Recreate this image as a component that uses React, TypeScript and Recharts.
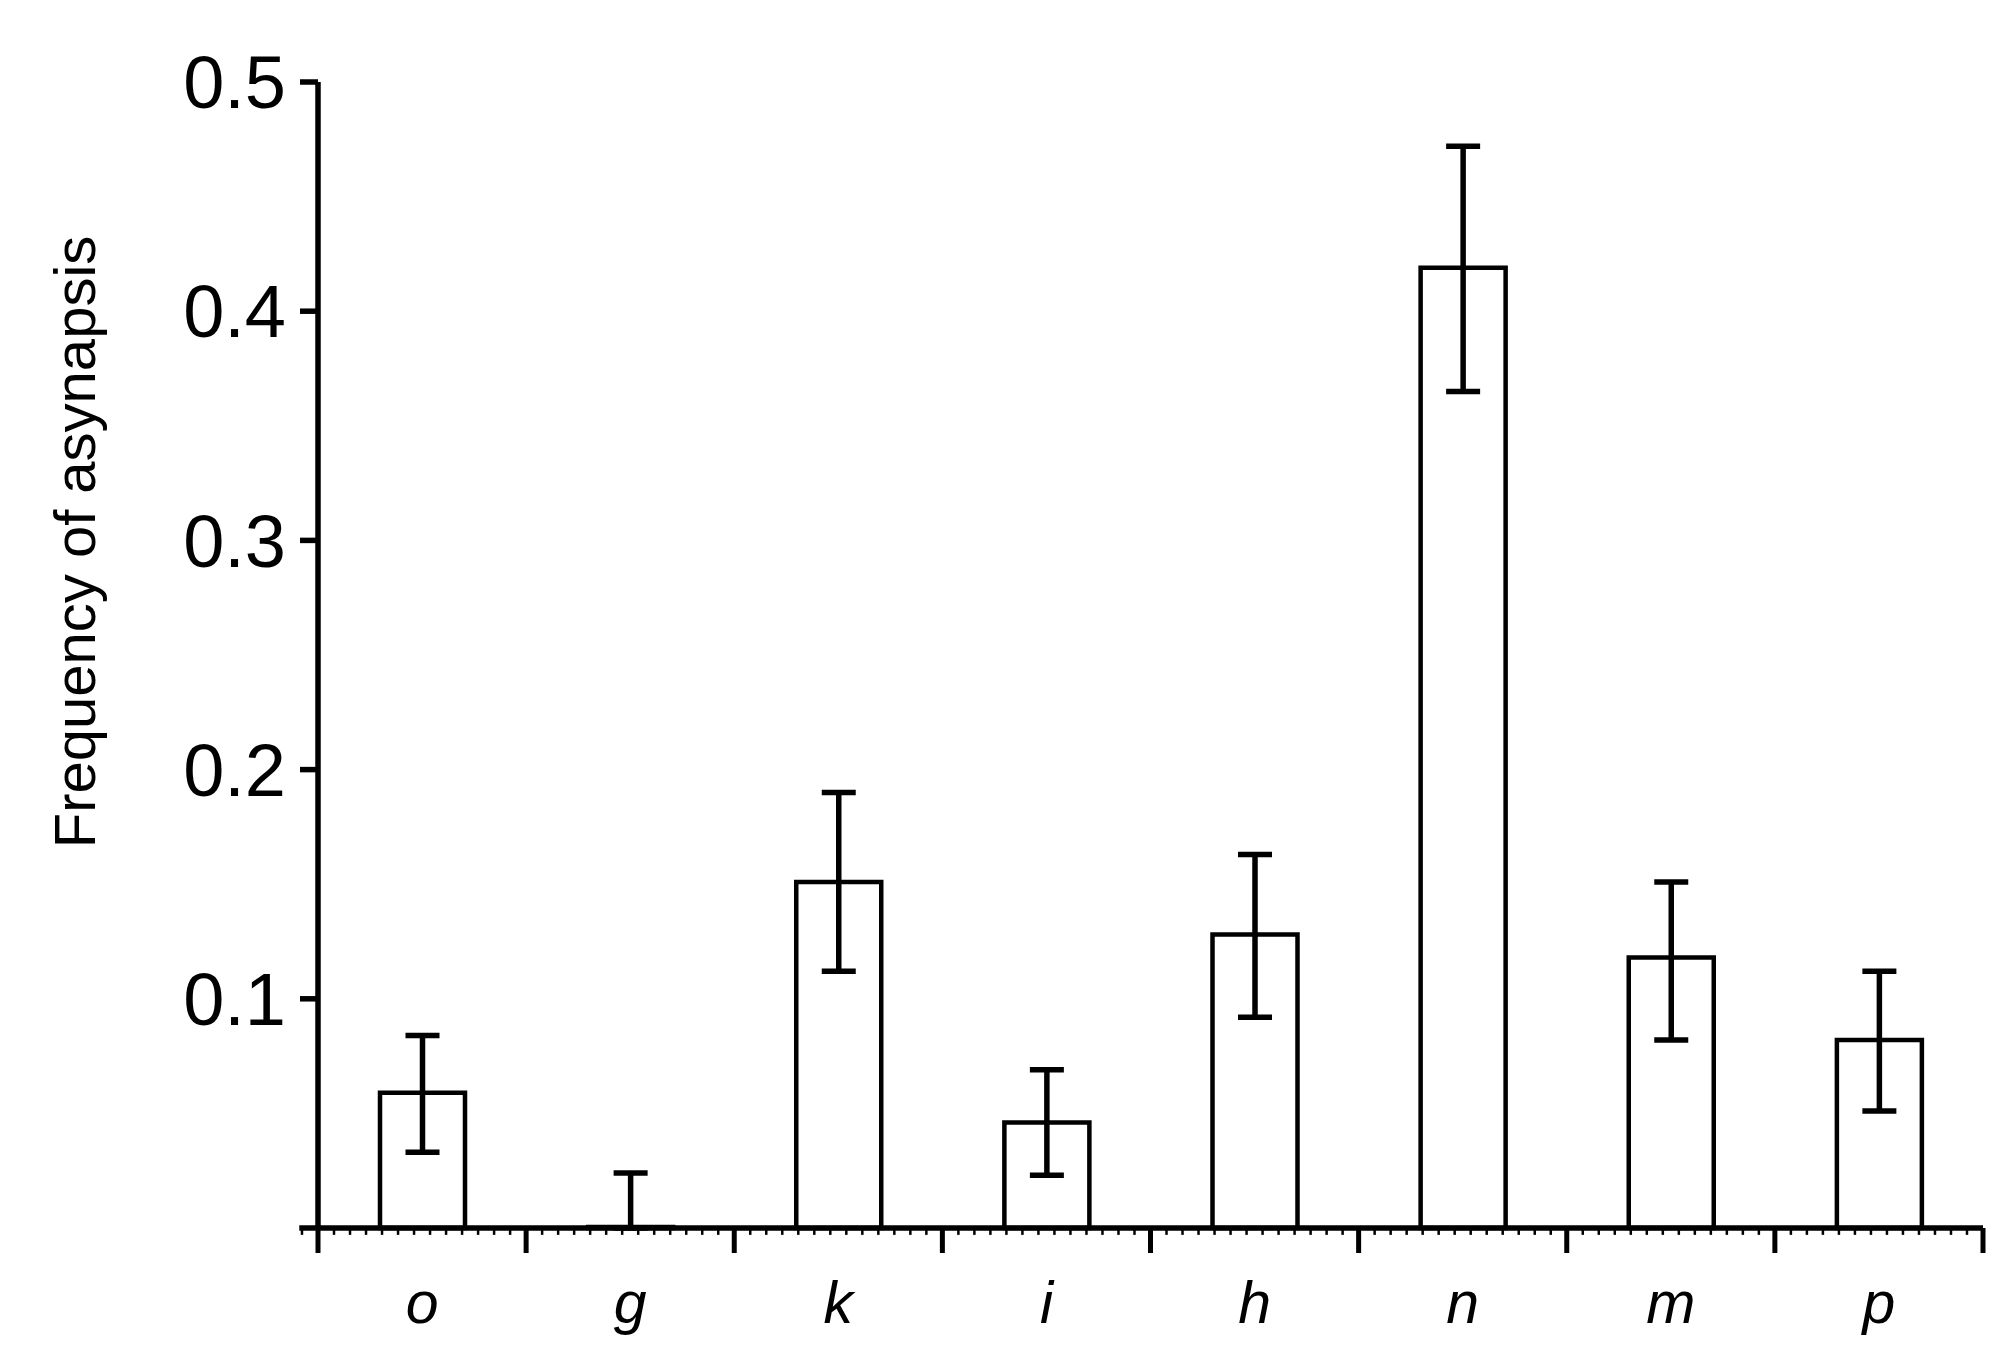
import React from 'react';
import { BarChart, Bar, XAxis, YAxis, ErrorBar, ReferenceLine } from 'recharts';

const categories = ['o', 'g', 'k', 'i', 'h', 'n', 'm', 'p'];
const frequency = [0.059, 0, 0.151, 0.046, 0.128, 0.419, 0.118, 0.082];
const errorMinus = [0.026, 0, 0.039, 0.023, 0.036, 0.054, 0.036, 0.031];
const errorPlus = [0.025, 0.024, 0.039, 0.023, 0.035, 0.053, 0.033, 0.030];
const yTicks = [0.1, 0.2, 0.3, 0.4, 0.5];
const yTickLabels = ['0.1', '0.2', '0.3', '0.4', '0.5'];
const groupBoundaries = [0, 1, 2, 3, 4, 5, 6, 7, 8];
const minorPerGroup = 13;
const yLabel = 'Frequency of asynapsis';

const data = categories.map((c, i) => ({
  name: c,
  pos: i + 0.5,
  value: frequency[i],
  err: [errorMinus[i], errorPlus[i]],
}));

const minorTicks: number[] = [];
for (let k = -1; k < categories.length * minorPerGroup; k++) {
  if (k % minorPerGroup !== 0) minorTicks.push(k / minorPerGroup);
}

const FONT = '"Liberation Sans", Arial, Helvetica, sans-serif';

const YLabel = () => (
  <text
    x={87}
    y={534}
    transform="rotate(-90 87 534)"
    textAnchor="middle"
    fontSize={58}
    fontFamily={FONT}
    fill="#000"
  >
    {yLabel}
  </text>
);

export default function App() {
  return (
    <div style={{ width: 1997, height: 1337 }}>
      <BarChart
        width={1997}
        height={1337}
        data={data}
        margin={{ top: 74, right: 22, left: 0, bottom: 17 }}
      >
        <XAxis
          xAxisId="cat"
          dataKey="name"
          type="category"
          axisLine={false}
          tickLine={false}
          tickSize={0}
          tickMargin={53}
          height={100}
          interval={0}
          tick={{ fontSize: 59, fontStyle: 'italic', fill: '#000', fontFamily: FONT }}
        />
        <XAxis
          xAxisId="grid"
          dataKey="pos"
          type="number"
          domain={[0, 8]}
          allowDataOverflow
          hide
        />
        <YAxis
          type="number"
          domain={[0, 0.5]}
          ticks={yTicks}
          tickFormatter={(v: number) => yTickLabels[yTicks.indexOf(v)] ?? String(v)}
          width={310}
          tickSize={18}
          tickMargin={14}
          axisLine={{ stroke: '#000', strokeWidth: 5.5 }}
          tickLine={{ stroke: '#000', strokeWidth: 5.5 }}
          tick={{ fontSize: 74, fill: '#000', fontFamily: FONT }}
          label={YLabel}
        />
        <Bar
          xAxisId="cat"
          dataKey="value"
          fill="#fff"
          stroke="#000"
          strokeWidth={4.5}
          barSize={85}
          minPointSize={1}
          isAnimationActive={false}
        >
          <ErrorBar
            dataKey="err"
            direction="y"
            width={17}
            stroke="#000"
            strokeWidth={5.5}
            isAnimationActive={false}
          />
        </Bar>
        <ReferenceLine
          xAxisId="grid"
          segment={[{ x: -0.09, y: 0 }, { x: 8, y: 0 }]}
          stroke="#000"
          strokeWidth={5.5}
          ifOverflow="visible"
        />
        {groupBoundaries.map((b) => (
          <ReferenceLine
            key={'maj' + b}
            xAxisId="grid"
            segment={[{ x: b, y: 0 }, { x: b, y: -0.0109 }]}
            stroke="#000"
            strokeWidth={5}
            ifOverflow="visible"
          />
        ))}
        {minorTicks.map((m) => (
          <ReferenceLine
            key={'min' + m}
            xAxisId="grid"
            segment={[{ x: m, y: 0 }, { x: m, y: -0.003 }]}
            stroke="#000"
            strokeWidth={2.5}
            ifOverflow="visible"
          />
        ))}
      </BarChart>
    </div>
  );
}
